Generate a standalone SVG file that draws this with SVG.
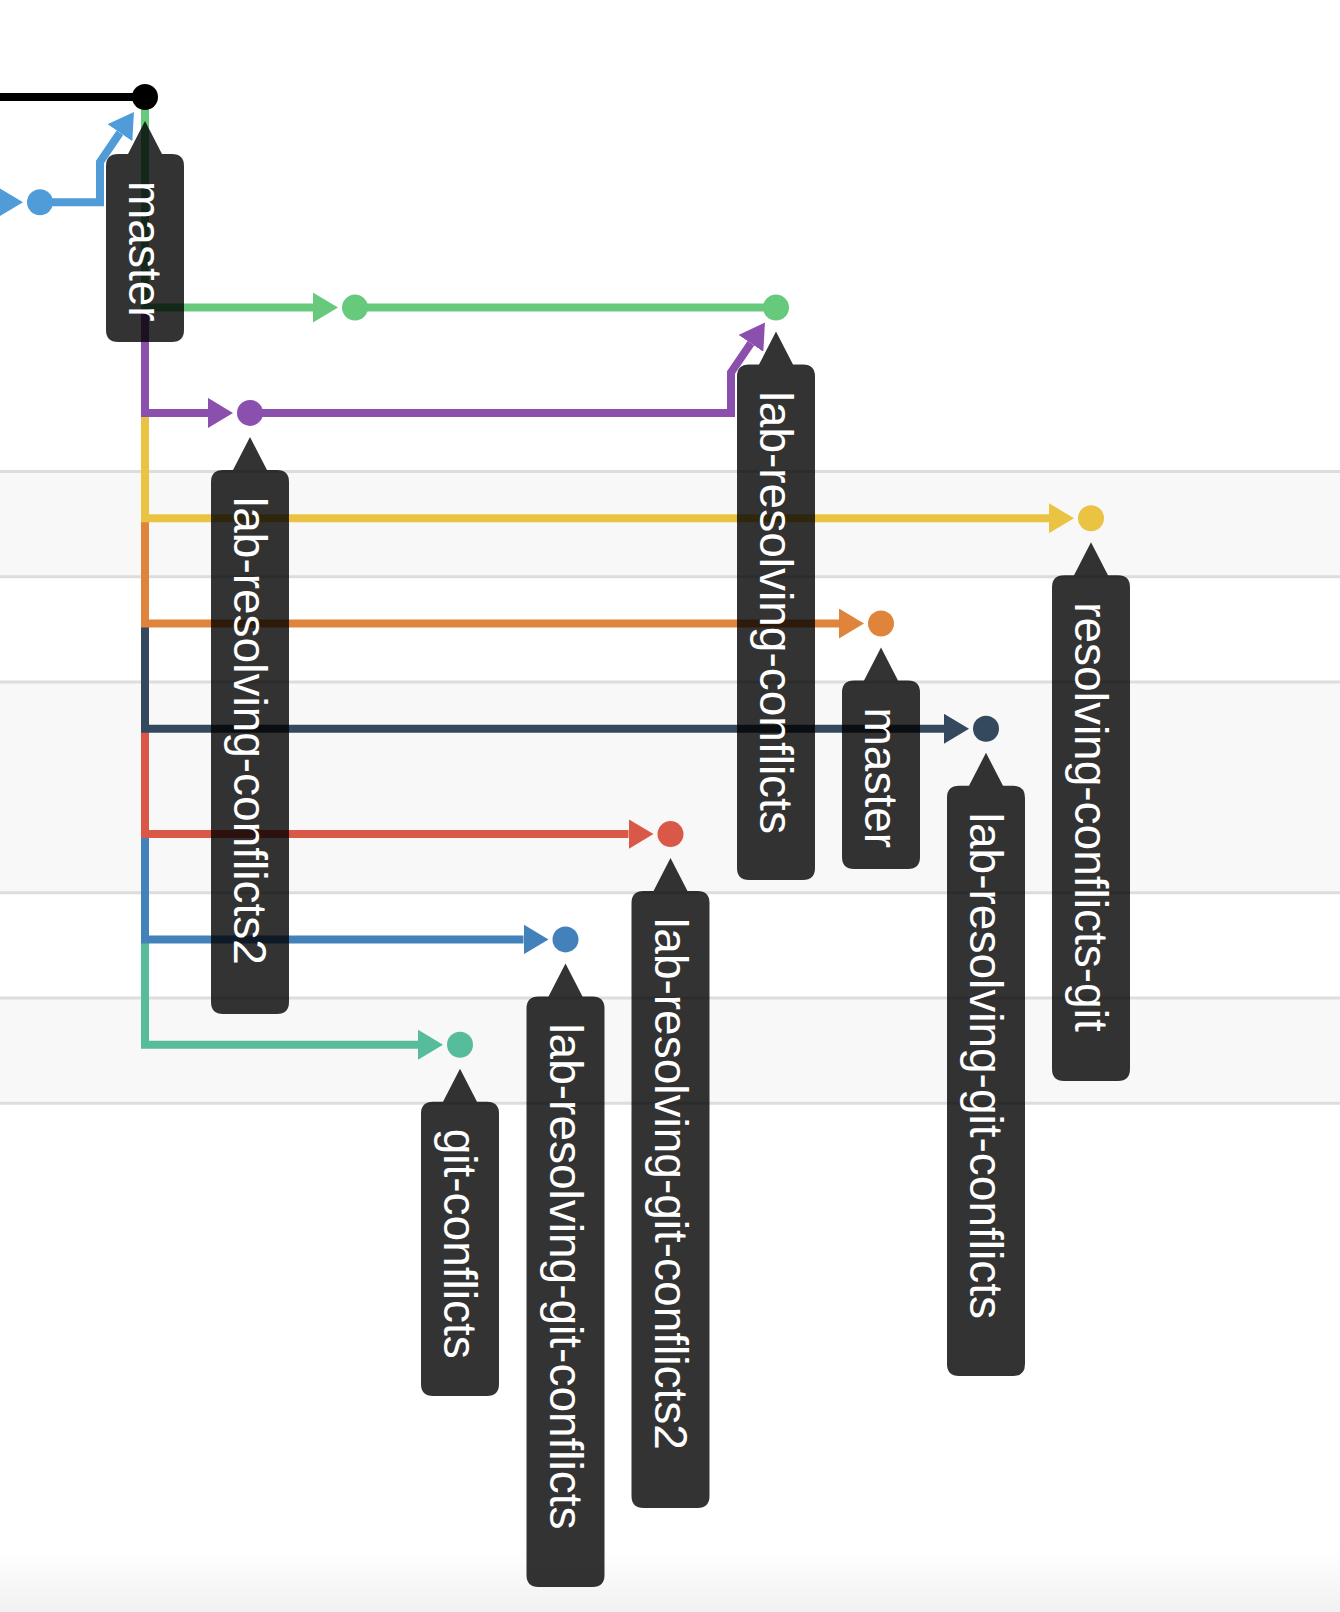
<svg xmlns="http://www.w3.org/2000/svg" width="1340" height="1612" viewBox="0 0 1340 1612">
  <style>
    .band { fill: #f8f8f8; }
    .rule { stroke: #dddddd; stroke-width: 3; }
    .edge { fill: none; stroke-width: 8; stroke-linejoin: miter; stroke-linecap: butt; }
    .tag { fill: #000000; fill-opacity: 0.8; }
    .tag-text { font-family: "Liberation Sans", Arial, Helvetica, sans-serif; font-size: 46px; fill: #ffffff; }
  </style>
  <defs>
    <linearGradient id="fade" x1="0" y1="0" x2="0" y2="1">
      <stop offset="0" stop-color="#ffffff"/>
      <stop offset="1" stop-color="#f1f1f1"/>
    </linearGradient>
    <marker id="a-black" markerUnits="userSpaceOnUse" viewBox="0 0 25 30" markerWidth="25" markerHeight="30" refX="0" refY="15" orient="auto"><path d="M0,0 L25,15 L0,30 z" fill="#000000"/></marker>
    <marker id="a-sky" markerUnits="userSpaceOnUse" viewBox="0 0 25 30" markerWidth="25" markerHeight="30" refX="0" refY="15" orient="auto"><path d="M0,0 L25,15 L0,30 z" fill="#509cd8"/></marker>
    <marker id="a-green" markerUnits="userSpaceOnUse" viewBox="0 0 25 30" markerWidth="25" markerHeight="30" refX="0" refY="15" orient="auto"><path d="M0,0 L25,15 L0,30 z" fill="#66c97c"/></marker>
    <marker id="a-purple" markerUnits="userSpaceOnUse" viewBox="0 0 25 30" markerWidth="25" markerHeight="30" refX="0" refY="15" orient="auto"><path d="M0,0 L25,15 L0,30 z" fill="#8b4fad"/></marker>
    <marker id="a-yellow" markerUnits="userSpaceOnUse" viewBox="0 0 25 30" markerWidth="25" markerHeight="30" refX="0" refY="15" orient="auto"><path d="M0,0 L25,15 L0,30 z" fill="#ebc342"/></marker>
    <marker id="a-orange" markerUnits="userSpaceOnUse" viewBox="0 0 25 30" markerWidth="25" markerHeight="30" refX="0" refY="15" orient="auto"><path d="M0,0 L25,15 L0,30 z" fill="#df843a"/></marker>
    <marker id="a-navy" markerUnits="userSpaceOnUse" viewBox="0 0 25 30" markerWidth="25" markerHeight="30" refX="0" refY="15" orient="auto"><path d="M0,0 L25,15 L0,30 z" fill="#34495e"/></marker>
    <marker id="a-red" markerUnits="userSpaceOnUse" viewBox="0 0 25 30" markerWidth="25" markerHeight="30" refX="0" refY="15" orient="auto"><path d="M0,0 L25,15 L0,30 z" fill="#da5848"/></marker>
    <marker id="a-blue" markerUnits="userSpaceOnUse" viewBox="0 0 25 30" markerWidth="25" markerHeight="30" refX="0" refY="15" orient="auto"><path d="M0,0 L25,15 L0,30 z" fill="#4281ba"/></marker>
    <marker id="a-teal" markerUnits="userSpaceOnUse" viewBox="0 0 25 30" markerWidth="25" markerHeight="30" refX="0" refY="15" orient="auto"><path d="M0,0 L25,15 L0,30 z" fill="#56bc9c"/></marker>
  </defs>

  <!-- page background, row bands and rules -->
  <rect x="0" y="0" width="1340" height="1612" fill="#ffffff"/>
  <rect x="0" y="1550" width="1340" height="62" fill="url(#fade)"/>
  <g id="bands">
    <rect class="band" x="0" y="471.5" width="1340" height="105.3"/>
    <rect class="band" x="0" y="682.1" width="1340" height="210.6"/>
    <rect class="band" x="0" y="998" width="1340" height="105.3"/>
    <line class="rule" x1="0" y1="471.5" x2="1340" y2="471.5"/>
    <line class="rule" x1="0" y1="576.8" x2="1340" y2="576.8"/>
    <line class="rule" x1="0" y1="682.1" x2="1340" y2="682.1"/>
    <line class="rule" x1="0" y1="892.7" x2="1340" y2="892.7"/>
    <line class="rule" x1="0" y1="998" x2="1340" y2="998"/>
    <line class="rule" x1="0" y1="1103.3" x2="1340" y2="1103.3"/>
  </g>

  <!-- branch connectors: lower branches first so upper ones cover the shared trunk -->
  <g id="connectors">
    <path class="edge" stroke="#000000" d="M-20,97 H145"/>
    <path class="edge" stroke="#509cd8" d="M-20,202.3 H-2" marker-end="url(#a-sky)"/>
    <path class="edge" stroke="#509cd8" d="M40,202.3 H100 V162 L119.9,132.7" marker-end="url(#a-sky)"/>
    <path class="edge" stroke="#56bc9c" d="M145,97 V1044.7 H418" marker-end="url(#a-teal)"/>
    <path class="edge" stroke="#4281ba" d="M145,97 V939.4 H523.5" marker-end="url(#a-blue)"/>
    <path class="edge" stroke="#da5848" d="M145,97 V834.1 H628.5" marker-end="url(#a-red)"/>
    <path class="edge" stroke="#34495e" d="M145,97 V728.8 H944" marker-end="url(#a-navy)"/>
    <path class="edge" stroke="#df843a" d="M145,97 V623.5 H839" marker-end="url(#a-orange)"/>
    <path class="edge" stroke="#ebc342" d="M145,97 V518.2 H1049" marker-end="url(#a-yellow)"/>
    <path class="edge" stroke="#8b4fad" d="M145,97 V412.9 H208" marker-end="url(#a-purple)"/>
    <path class="edge" stroke="#66c97c" d="M145,97 V307.6 H313" marker-end="url(#a-green)"/>
    <path class="edge" stroke="#66c97c" d="M355,307.6 H776"/>
    <path class="edge" stroke="#8b4fad" d="M250,412.9 H731 V372.6 L750.9,343.3" marker-end="url(#a-purple)"/>
  </g>

  <!-- commits -->
  <g id="commit-sky"><circle cx="40" cy="202.3" r="13" fill="#509cd8"/></g>
  <g id="commit-green-1"><circle cx="355" cy="307.6" r="13" fill="#66c97c"/></g>

  <g id="node-master-top">
    <circle cx="145" cy="97" r="13" fill="#000000"/>
    <path class="tag" d="M128,154 L145,121 L162,154 L172,154 Q184,154 184,166 L184,330 Q184,342 172,342 L118,342 Q106,342 106,330 L106,166 Q106,154 118,154 Z"/>
    <text class="tag-text" transform="translate(145,181) rotate(90)" y="16">master</text>
  </g>

  <g id="node-lab-resolving-conflicts2">
    <circle cx="250" cy="412.9" r="13" fill="#8b4fad"/>
    <path class="tag" d="M233,470 L250,437 L267,470 L277,470 Q289,470 289,482 L289,1002 Q289,1014 277,1014 L223,1014 Q211,1014 211,1002 L211,482 Q211,470 223,470 Z"/>
    <text class="tag-text" transform="translate(250,497) rotate(90)" y="16">lab-resolving-conflicts2</text>
  </g>

  <g id="node-lab-resolving-conflicts">
    <circle cx="776" cy="307.6" r="13" fill="#66c97c"/>
    <path class="tag" d="M759,364.6 L776,331.6 L793,364.6 L803,364.6 Q815,364.6 815,376.6 L815,868 Q815,880 803,880 L749,880 Q737,880 737,868 L737,376.6 Q737,364.6 749,364.6 Z"/>
    <text class="tag-text" transform="translate(776,391.6) rotate(90)" y="16">lab-resolving-conflicts</text>
  </g>

  <g id="node-resolving-conflicts-git">
    <circle cx="1091" cy="518.2" r="13" fill="#ebc342"/>
    <path class="tag" d="M1074,575.2 L1091,542.2 L1108,575.2 L1118,575.2 Q1130,575.2 1130,587.2 L1130,1069 Q1130,1081 1118,1081 L1064,1081 Q1052,1081 1052,1069 L1052,587.2 Q1052,575.2 1064,575.2 Z"/>
    <text class="tag-text" transform="translate(1091,602.2) rotate(90)" y="16">resolving-conflicts-git</text>
  </g>

  <g id="node-master">
    <circle cx="881" cy="623.5" r="13" fill="#df843a"/>
    <path class="tag" d="M864,680.5 L881,647.5 L898,680.5 L908,680.5 Q920,680.5 920,692.5 L920,857 Q920,869 908,869 L854,869 Q842,869 842,857 L842,692.5 Q842,680.5 854,680.5 Z"/>
    <text class="tag-text" transform="translate(881,707.5) rotate(90)" y="16">master</text>
  </g>

  <g id="node-lab-resolving-git-conflicts-a">
    <circle cx="986" cy="728.8" r="13" fill="#34495e"/>
    <path class="tag" d="M969,785.8 L986,752.8 L1003,785.8 L1013,785.8 Q1025,785.8 1025,797.8 L1025,1364 Q1025,1376 1013,1376 L959,1376 Q947,1376 947,1364 L947,797.8 Q947,785.8 959,785.8 Z"/>
    <text class="tag-text" transform="translate(986,812.8) rotate(90)" y="16">lab-resolving-git-conflicts</text>
  </g>

  <g id="node-lab-resolving-git-conflicts2">
    <circle cx="670.5" cy="834.1" r="13" fill="#da5848"/>
    <path class="tag" d="M653.5,891.1 L670.5,858.1 L687.5,891.1 L697.5,891.1 Q709.5,891.1 709.5,903.1 L709.5,1496 Q709.5,1508 697.5,1508 L643.5,1508 Q631.5,1508 631.5,1496 L631.5,903.1 Q631.5,891.1 643.5,891.1 Z"/>
    <text class="tag-text" transform="translate(670.5,918.1) rotate(90)" y="16">lab-resolving-git-conflicts2</text>
  </g>

  <g id="node-lab-resolving-git-conflicts-b">
    <circle cx="565.5" cy="939.4" r="13" fill="#4281ba"/>
    <path class="tag" d="M548.5,996.4 L565.5,963.4 L582.5,996.4 L592.5,996.4 Q604.5,996.4 604.5,1008.4 L604.5,1575 Q604.5,1587 592.5,1587 L538.5,1587 Q526.5,1587 526.5,1575 L526.5,1008.4 Q526.5,996.4 538.5,996.4 Z"/>
    <text class="tag-text" transform="translate(565.5,1023.4) rotate(90)" y="16">lab-resolving-git-conflicts</text>
  </g>

  <g id="node-git-conflicts">
    <circle cx="460" cy="1044.7" r="13" fill="#56bc9c"/>
    <path class="tag" d="M443,1101.7 L460,1068.7 L477,1101.7 L487,1101.7 Q499,1101.7 499,1113.7 L499,1384 Q499,1396 487,1396 L433,1396 Q421,1396 421,1384 L421,1113.7 Q421,1101.7 433,1101.7 Z"/>
    <text class="tag-text" transform="translate(460,1128.7) rotate(90)" y="16">git-conflicts</text>
  </g>
</svg>
